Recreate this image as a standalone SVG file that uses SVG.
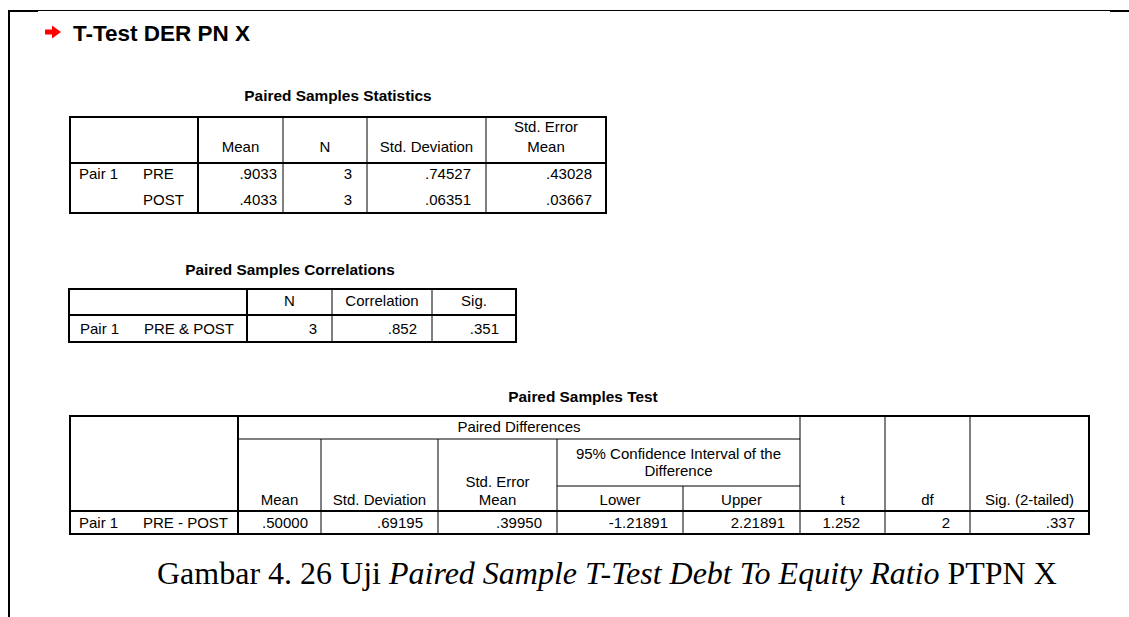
<svg xmlns="http://www.w3.org/2000/svg" width="1129" height="617" viewBox="0 0 1129 617">
<style>
text{font-family:"Liberation Sans",Arial,sans-serif;fill:#000}
.t{font-size:15px}
.c{text-anchor:middle}
.r{text-anchor:end}
.h{font-size:15.4px;font-weight:bold;text-anchor:middle}
.box{fill:none;stroke:#000;stroke-width:2}
.thin{stroke:#000;stroke-width:1}
.thick{stroke:#000;stroke-width:2}
.cap{font-family:"Liberation Serif","Times New Roman",serif;font-size:32px}
</style>
<rect width="1129" height="617" fill="#fff"/>
<g id="frame">
<line x1="9" y1="10.5" x2="1129" y2="10.5" class="thin"/>
<line x1="9" y1="11" x2="38" y2="11" class="thick"/>
<line x1="1110" y1="11" x2="1129" y2="11" class="thick"/>
<line x1="9" y1="10" x2="9" y2="617" class="thick"/>
</g>
<g id="heading">
<polygon points="45,29.5 52,29.5 52,25.5 61,32 52,38.5 52,34.5 45,34.5" fill="#ff0000"/>
<text x="73" y="41" style="font-size:22.5px;font-weight:bold">T-Test DER PN X</text>
</g>
<g id="table-statistics">
<text x="338" y="101" class="h">Paired Samples Statistics</text>
<rect x="70" y="117" width="536" height="96" class="box"/>
<line x1="198" y1="117" x2="198" y2="213" class="thick"/>
<line x1="70" y1="163" x2="606" y2="163" class="thick"/>
<line x1="283" y1="117" x2="283" y2="213" class="thin"/>
<line x1="367" y1="117" x2="367" y2="213" class="thin"/>
<line x1="486" y1="117" x2="486" y2="213" class="thin"/>
<text x="240.5" y="152" class="t c">Mean</text>
<text x="325" y="152" class="t c">N</text>
<text x="426.5" y="152" class="t c">Std. Deviation</text>
<text x="546" y="132" class="t c">Std. Error</text>
<text x="546" y="152" class="t c">Mean</text>
<text x="79" y="179" class="t">Pair 1</text>
<text x="143" y="179" class="t">PRE</text>
<text x="143" y="205" class="t">POST</text>
<text x="277" y="179" class="t r">.9033</text>
<text x="277" y="205" class="t r">.4033</text>
<text x="352" y="179" class="t r">3</text>
<text x="352" y="205" class="t r">3</text>
<text x="471" y="179" class="t r">.74527</text>
<text x="471" y="205" class="t r">.06351</text>
<text x="592" y="179" class="t r">.43028</text>
<text x="592" y="205" class="t r">.03667</text>
</g>
<g id="table-correlations">
<text x="290" y="275" class="h">Paired Samples Correlations</text>
<rect x="69" y="289" width="447" height="53" class="box"/>
<line x1="247" y1="289" x2="247" y2="342" class="thick"/>
<line x1="69" y1="315" x2="516" y2="315" class="thick"/>
<line x1="332" y1="289" x2="332" y2="342" class="thin"/>
<line x1="432" y1="289" x2="432" y2="342" class="thin"/>
<text x="289.5" y="306" class="t c">N</text>
<text x="382" y="306" class="t c">Correlation</text>
<text x="474" y="306" class="t c">Sig.</text>
<text x="80" y="334" class="t">Pair 1</text>
<text x="144" y="334" class="t">PRE &amp; POST</text>
<text x="317" y="334" class="t r">3</text>
<text x="417" y="334" class="t r">.852</text>
<text x="499" y="334" class="t r">.351</text>
</g>
<g id="table-test">
<text x="583" y="402" class="h">Paired Samples Test</text>
<rect x="70" y="416" width="1019" height="118" class="box"/>
<line x1="238" y1="416" x2="238" y2="534" class="thick"/>
<line x1="70" y1="511" x2="1089" y2="511" class="thick"/>
<line x1="238" y1="439" x2="800" y2="439" class="thin"/>
<line x1="557" y1="486" x2="800" y2="486" class="thin"/>
<line x1="321" y1="439" x2="321" y2="534" class="thin"/>
<line x1="438" y1="439" x2="438" y2="534" class="thin"/>
<line x1="557" y1="439" x2="557" y2="534" class="thin"/>
<line x1="683" y1="486" x2="683" y2="534" class="thin"/>
<line x1="800" y1="416" x2="800" y2="534" class="thin"/>
<line x1="885" y1="416" x2="885" y2="534" class="thin"/>
<line x1="970" y1="416" x2="970" y2="534" class="thin"/>
<text x="519" y="432" class="t c">Paired Differences</text>
<text x="678.5" y="459" class="t c">95% Confidence Interval of the</text>
<text x="678.5" y="476" class="t c">Difference</text>
<text x="497.5" y="487" class="t c">Std. Error</text>
<text x="279.5" y="505" class="t c">Mean</text>
<text x="379.5" y="505" class="t c">Std. Deviation</text>
<text x="497.5" y="505" class="t c">Mean</text>
<text x="620" y="505" class="t c">Lower</text>
<text x="741.5" y="505" class="t c">Upper</text>
<text x="842.5" y="505" class="t c">t</text>
<text x="927.5" y="505" class="t c">df</text>
<text x="1029.5" y="505" class="t c">Sig. (2-tailed)</text>
<text x="79" y="528" class="t">Pair 1</text>
<text x="143" y="528" class="t">PRE - POST</text>
<text x="308" y="528" class="t r">.50000</text>
<text x="423" y="528" class="t r">.69195</text>
<text x="542" y="528" class="t r">.39950</text>
<text x="668" y="528" class="t r">-1.21891</text>
<text x="785" y="528" class="t r">2.21891</text>
<text x="860" y="528" class="t r">1.252</text>
<text x="950" y="528" class="t r">2</text>
<text x="1075" y="528" class="t r">.337</text>
</g>
<g id="caption">
<text x="157" y="584" class="cap">Gambar 4. 26 Uji <tspan font-style="italic">Paired Sample T-Test Debt To Equity Ratio</tspan> PTPN X</text>
</g>
</svg>
